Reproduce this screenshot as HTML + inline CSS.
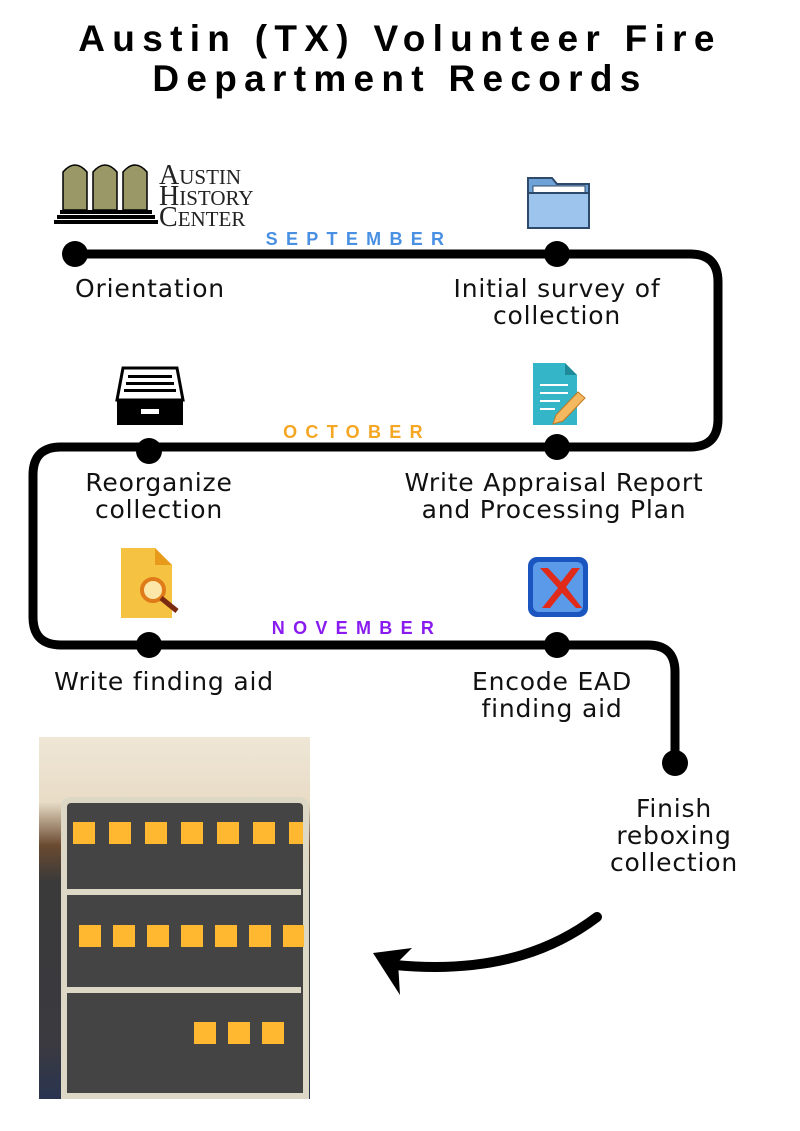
<!DOCTYPE html>
<html><head><meta charset="utf-8"><style>
body{margin:0;width:800px;height:1131px;background:#fff;position:relative;overflow:hidden;font-family:"Liberation Sans",sans-serif}
.t{position:absolute;left:0;width:800px;text-align:center;font-weight:bold;font-size:37px;letter-spacing:7.3px;color:#000}
.l{position:absolute;font-family:"DejaVu Sans",sans-serif;font-size:25px;letter-spacing:0.8px;text-align:center;line-height:27px;color:#111;white-space:nowrap}
.m{position:absolute;font-weight:bold;font-size:18px;letter-spacing:8.3px;width:300px;text-align:center}
</style></head><body>
<div class="t" style="top:18px">Austin (TX) Volunteer Fire</div>
<div class="t" style="top:58px">Department Records</div>

<svg width="800" height="1131" style="position:absolute;left:0;top:0">
<path d="M75 254 H690 Q718 254 718 282 V419 Q718 447 690 447 H61 Q33 447 33 475 V617 Q33 645 61 645 H648 Q675 645 675 672 V763" fill="none" stroke="#000" stroke-width="9"/>
<g fill="#000"><circle cx="75" cy="254" r="13"/><circle cx="557" cy="254" r="13"/><circle cx="149" cy="451" r="13"/><circle cx="557" cy="447" r="13"/><circle cx="149" cy="645" r="13"/><circle cx="557" cy="645" r="13"/><circle cx="675" cy="763" r="13"/></g>
<path d="M597 917 C560 945 500 975 395 965" fill="none" stroke="#000" stroke-width="10" stroke-linecap="round"/>
<path d="M373 953 L412 948 L398 962 L400 995 Z" fill="#000"/>
<g fill="#9a9866" stroke="#000" stroke-width="1.5">
<path d="M63 210 V172 Q75 158 87 172 V210 Z"/><path d="M93 210 V172 Q105 158 117 172 V210 Z"/><path d="M123 210 V172 Q135 158 147 172 V210 Z"/>
</g>
<rect x="60" y="210" width="92" height="4"/><rect x="57" y="215" width="98" height="4"/><rect x="54" y="220" width="104" height="4"/>
<text x="159" y="184" font-family="Liberation Serif" font-size="28" fill="#222">A<tspan font-size="21">USTIN</tspan></text>
<text x="159" y="205" font-family="Liberation Serif" font-size="28" fill="#222">H<tspan font-size="21">ISTORY</tspan></text>
<text x="159" y="226" font-family="Liberation Serif" font-size="28" fill="#222">C<tspan font-size="21">ENTER</tspan></text>
<path d="M528 178 H552 L557 184 H589 V228 H528 Z" fill="#6fa2d6" stroke="#2e4a6a" stroke-width="2"/>
<rect x="533" y="186" width="52" height="10" fill="#fff" stroke="#2e4a6a"/>
<path d="M528 193 H589 V228 H528 Z" fill="#9cc4ec" stroke="#2e4a6a" stroke-width="2"/>
<path d="M123 368 H177 L183 400 H117 Z" fill="#fff" stroke="#000" stroke-width="3"/>
<rect x="128" y="375" width="44" height="3"/><rect x="126" y="382" width="48" height="3"/><rect x="124" y="389" width="52" height="3"/>
<rect x="117" y="400" width="66" height="25" fill="#000"/><rect x="141" y="409" width="18" height="5" fill="#fff"/>
<path d="M533 363 H565 L577 375 V425 H533 Z" fill="#35b5c8"/><path d="M565 363 V375 H577 Z" fill="#1f8a9a"/>
<g stroke="#fff" stroke-width="2"><line x1="540" y1="385" x2="568" y2="385"/><line x1="540" y1="393" x2="568" y2="393"/><line x1="540" y1="401" x2="560" y2="401"/><line x1="540" y1="409" x2="555" y2="409"/></g>
<path d="M556 415 L578 392 L585 398 L563 421 L553 424 Z" fill="#f4b860" stroke="#c07a20"/>
<path d="M121 548 H155 L172 565 V618 H121 Z" fill="#f5c242"/><path d="M155 548 V565 H172 Z" fill="#e89a1a"/>
<circle cx="153" cy="590" r="11" fill="#fde7a8" stroke="#e07b1a" stroke-width="4"/><line x1="161" y1="598" x2="177" y2="611" stroke="#7a2a10" stroke-width="5"/>
<rect x="528" y="557" width="60" height="60" rx="9" fill="#1b55c0"/><rect x="533" y="562" width="50" height="50" rx="6" fill="#5a9ae8"/>
<path d="M540 568 L558 588 L542 608 L550 608 L562 593 L576 608 L582 608 L566 587 L580 568 L572 568 L561 582 L548 568 Z" fill="#e02a1a"/>
</svg>

<div class="m" style="left:209px;top:229px;color:#4a90e2">SEPTEMBER</div>
<div class="m" style="left:207px;top:422px;color:#f5a623">OCTOBER</div>
<div class="m" style="left:207px;top:618px;color:#8a1bf0">NOVEMBER</div>

<div class="l" style="left:0;width:300px;top:275px">Orientation</div>
<div class="l" style="left:407px;width:300px;top:275px">Initial survey of<br>collection</div>
<div class="l" style="left:9px;width:300px;top:469px">Reorganize<br>collection</div>
<div class="l" style="left:384px;width:340px;top:469px">Write Appraisal Report<br>and Processing Plan</div>
<div class="l" style="left:14px;width:300px;top:668px">Write finding aid</div>
<div class="l" style="left:402px;width:300px;top:668px">Encode EAD<br>finding aid</div>
<div class="l" style="left:524px;width:300px;top:795px">Finish<br>reboxing<br>collection</div>

<div style="position:absolute;left:39px;top:737px;width:271px;height:362px;overflow:hidden;background:linear-gradient(#efe6d6 0,#e8dcc6 18%,#6a4a30 30%,#3a3a3a 40%,#3a3a40 85%,#2a3450 100%)">
<div style="position:absolute;left:22px;top:60px;width:236px;height:290px;border:6px solid #ddd8c6;border-radius:10px 10px 0 0;background:#444"></div>
<div style="position:absolute;left:26px;top:152px;width:236px;height:6px;background:#ddd8c6"></div>
<div style="position:absolute;left:26px;top:250px;width:236px;height:6px;background:#ddd8c6"></div>
<div style="position:absolute;left:34px;top:85px;width:230px;height:22px;background:repeating-linear-gradient(90deg,#ffb830 0 22px,transparent 22px 36px)"></div>
<div style="position:absolute;left:40px;top:188px;width:225px;height:22px;background:repeating-linear-gradient(90deg,#ffb830 0 22px,transparent 22px 34px)"></div>
<div style="position:absolute;left:155px;top:285px;width:100px;height:22px;background:repeating-linear-gradient(90deg,#ffb830 0 22px,transparent 22px 34px)"></div>
</div>
</body></html>
